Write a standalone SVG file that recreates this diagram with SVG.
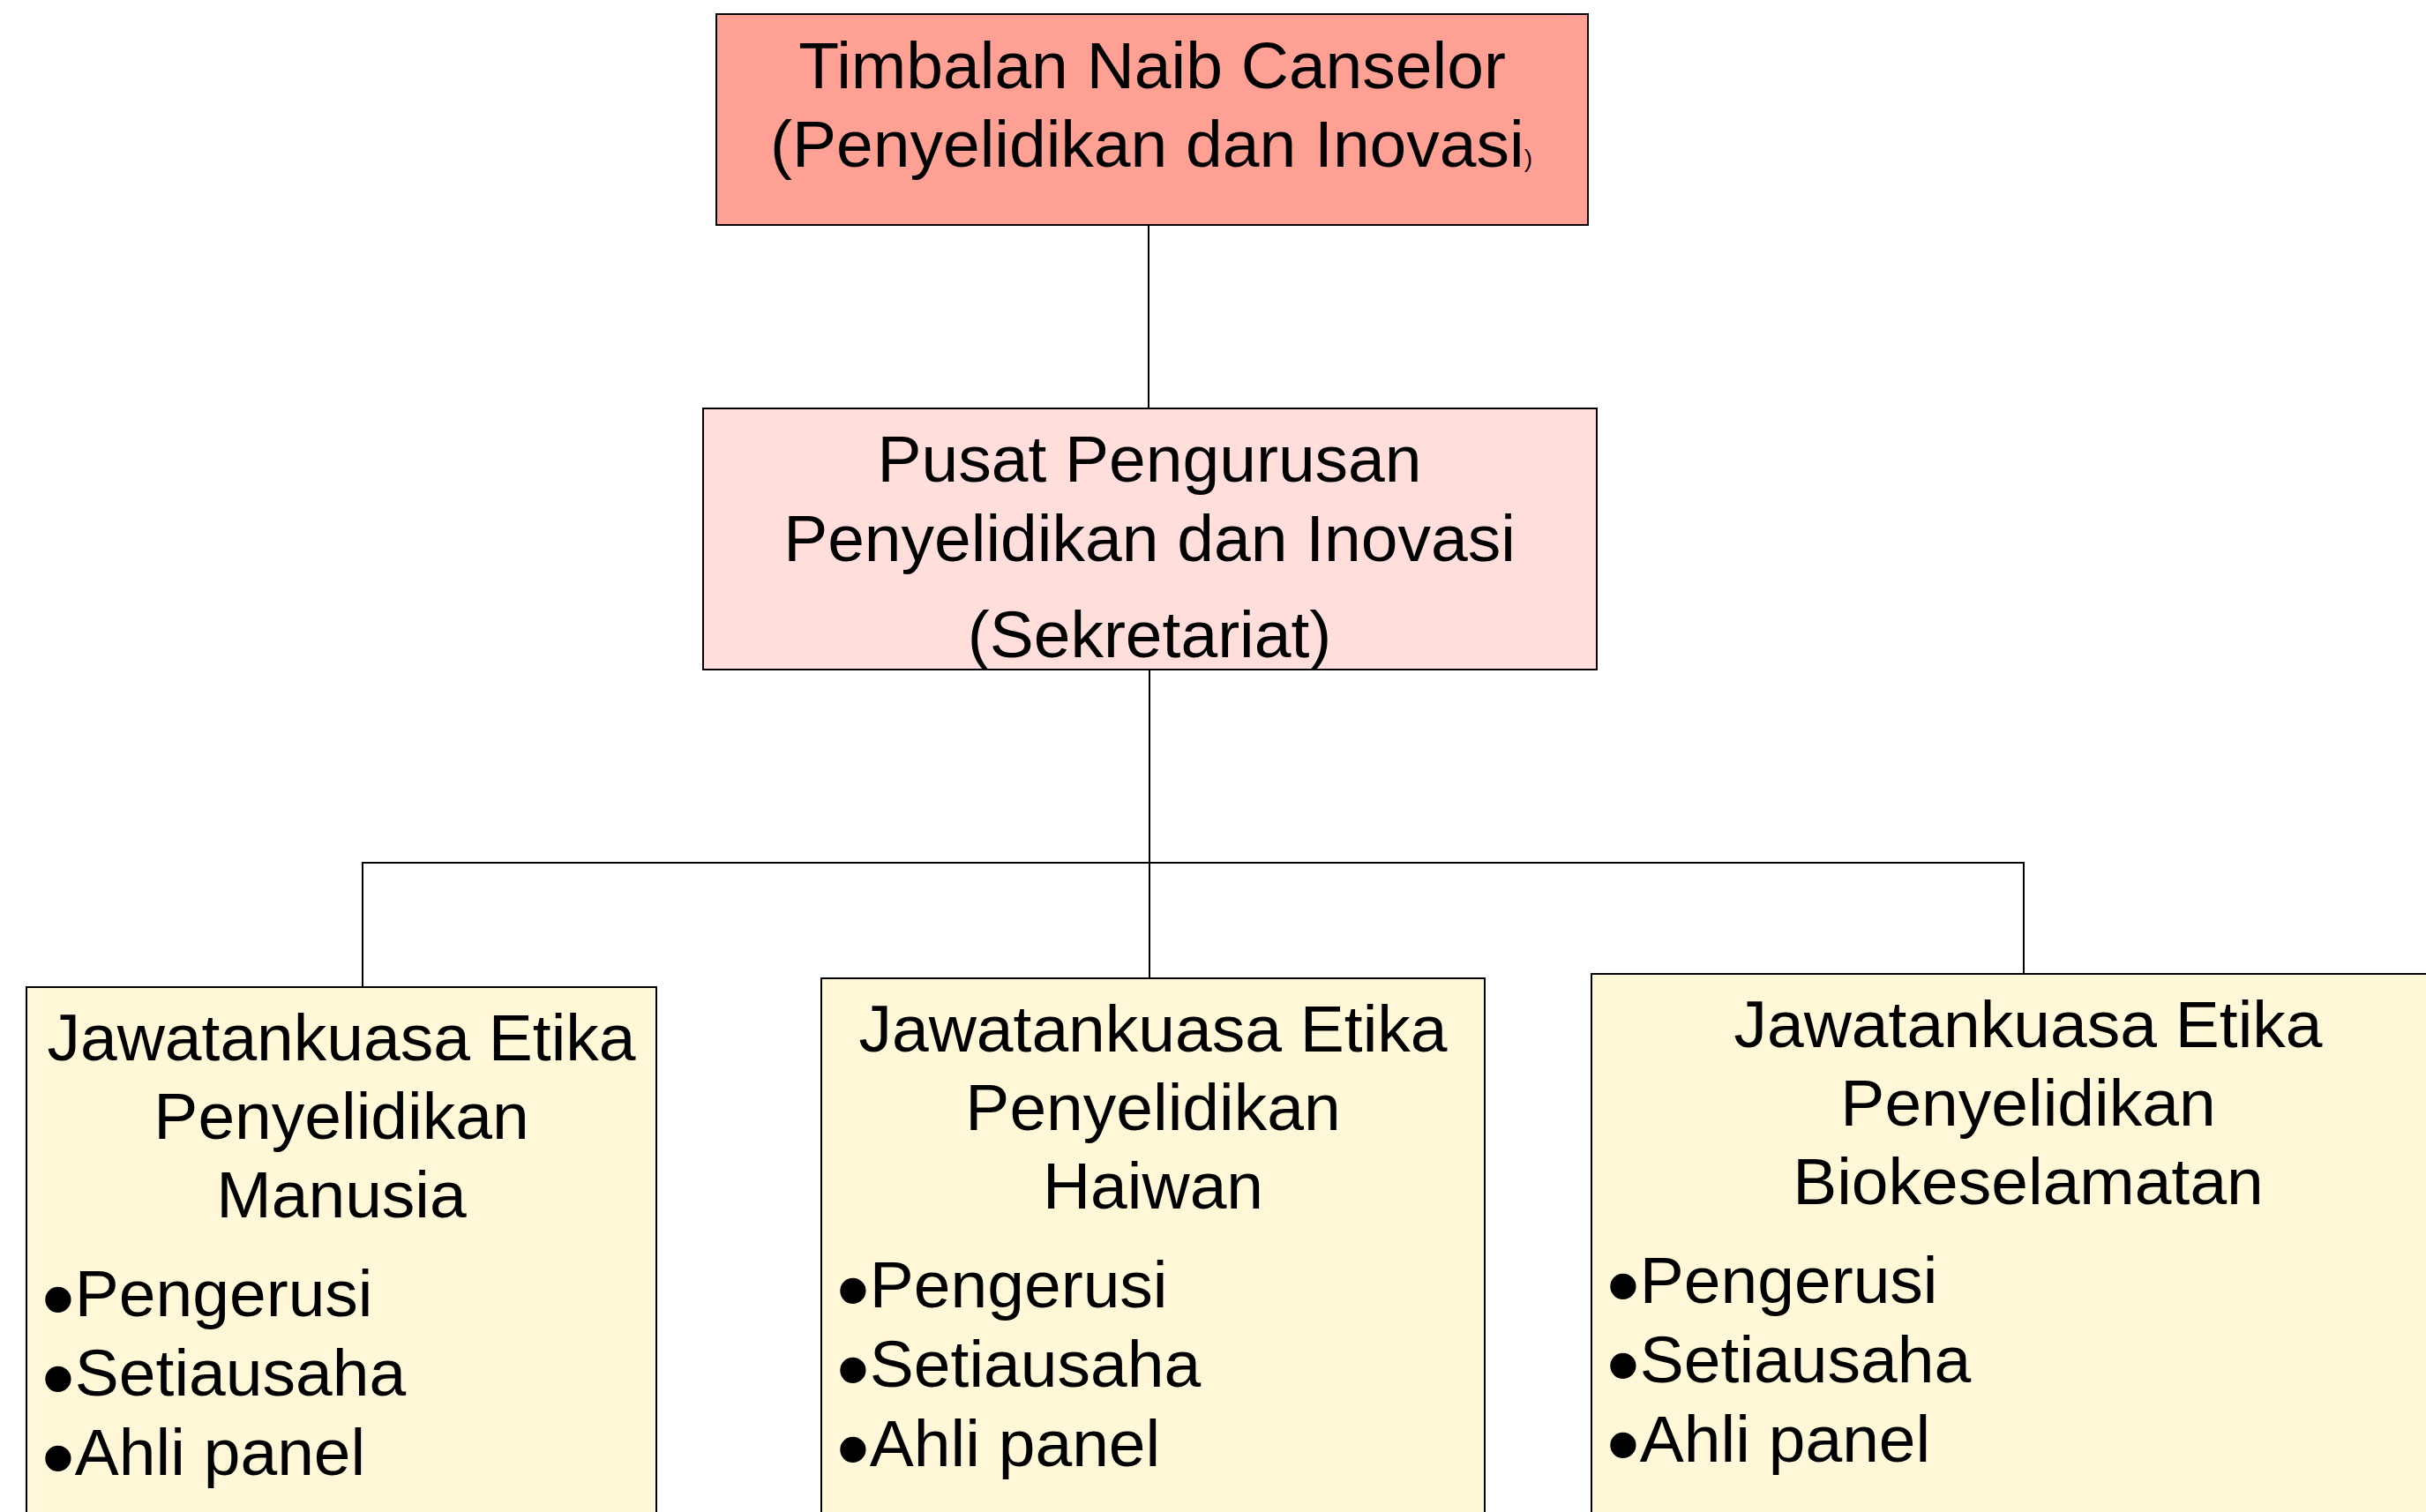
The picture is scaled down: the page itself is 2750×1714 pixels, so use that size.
<svg xmlns="http://www.w3.org/2000/svg" width="2750" height="1714" viewBox="0 0 2750 1714">
<style>
.box{stroke:#000;stroke-width:2}
.t{font-family:"Liberation Sans",Arial,sans-serif;font-size:75px;fill:#000}
.c{text-anchor:middle}
.b{font-size:108px}
.ln{stroke:#000;stroke-width:2;fill:none}
</style>
<rect width="2750" height="1714" fill="#fff"/>
<g id="connectors">
<line class="ln" x1="1302" y1="255" x2="1302" y2="463"/>
<line class="ln" x1="1303" y1="759" x2="1303" y2="1109"/>
<polyline class="ln" points="411,1119 411,978 2294,978 2294,1104"/>
</g>
<g id="node-tnc">
<rect class="box" x="812" y="16" width="988" height="239" fill="#FFA094"/>
<text class="t c" x="1306" y="100">Timbalan Naib Canselor</text>
<text class="t" x="873" y="189">(Penyelidikan dan Inovasi<tspan font-size="28">)</tspan></text>
</g>
<g id="node-pusat">
<rect class="box" x="797" y="463" width="1013" height="296" fill="#FFDEDC"/>
<text class="t c" x="1303" y="546">Pusat Pengurusan</text>
<text class="t c" x="1303" y="636">Penyelidikan dan Inovasi</text>
<text class="t c" x="1303" y="745">(Sekretariat)</text>
</g>
<g id="node-manusia">
<rect class="box" x="30" y="1119" width="714" height="620" fill="#FFF8D8"/>
<text class="t c" x="387" y="1202">Jawatankuasa Etika</text>
<text class="t c" x="387" y="1291">Penyelidikan</text>
<text class="t c" x="387" y="1380">Manusia</text>
<text class="t" x="47" y="1492"><tspan class="b" dy="17">•</tspan><tspan dy="-17">Pengerusi</tspan></text>
<text class="t" x="47" y="1582"><tspan class="b" dy="17">•</tspan><tspan dy="-17">Setiausaha</tspan></text>
<text class="t" x="47" y="1672"><tspan class="b" dy="17">•</tspan><tspan dy="-17">Ahli panel</tspan></text>
</g>
<g id="node-haiwan">
<rect class="box" x="931" y="1109" width="752" height="630" fill="#FFF8D8"/>
<text class="t c" x="1307" y="1192">Jawatankuasa Etika</text>
<text class="t c" x="1307" y="1281">Penyelidikan</text>
<text class="t c" x="1307" y="1370">Haiwan</text>
<text class="t" x="948" y="1482"><tspan class="b" dy="17">•</tspan><tspan dy="-17">Pengerusi</tspan></text>
<text class="t" x="948" y="1572"><tspan class="b" dy="17">•</tspan><tspan dy="-17">Setiausaha</tspan></text>
<text class="t" x="948" y="1662"><tspan class="b" dy="17">•</tspan><tspan dy="-17">Ahli panel</tspan></text>
</g>
<g id="node-bio">
<rect class="box" x="1804" y="1104" width="990" height="640" fill="#FFF8D8"/>
<text class="t c" x="2299" y="1187">Jawatankuasa Etika</text>
<text class="t c" x="2299" y="1276">Penyelidikan</text>
<text class="t c" x="2299" y="1365">Biokeselamatan</text>
<text class="t" x="1821" y="1477"><tspan class="b" dy="17">•</tspan><tspan dy="-17">Pengerusi</tspan></text>
<text class="t" x="1821" y="1567"><tspan class="b" dy="17">•</tspan><tspan dy="-17">Setiausaha</tspan></text>
<text class="t" x="1821" y="1657"><tspan class="b" dy="17">•</tspan><tspan dy="-17">Ahli panel</tspan></text>
</g>
</svg>
